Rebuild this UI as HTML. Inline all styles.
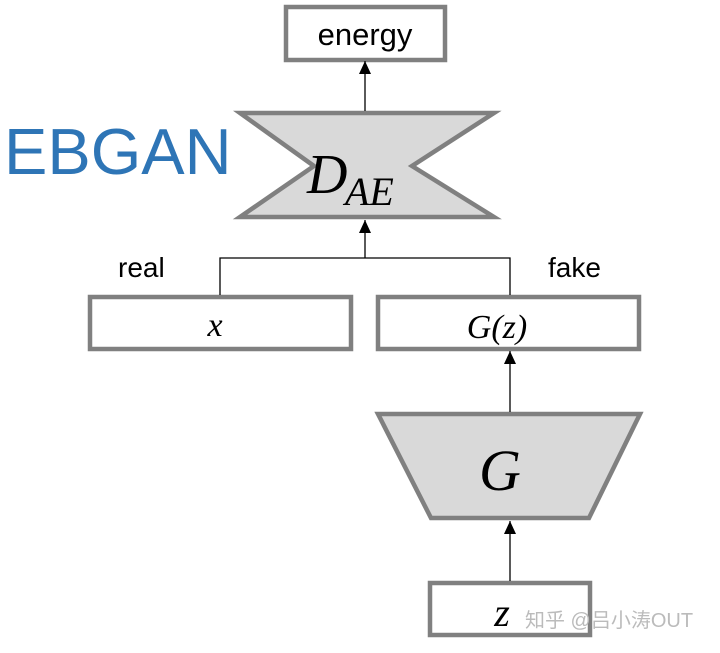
<!DOCTYPE html>
<html><head><style>
body{margin:0;background:#fff;width:720px;height:648px;overflow:hidden}
</style></head><body>
<svg width="720" height="648" xmlns="http://www.w3.org/2000/svg">
<defs><marker id="a" markerWidth="14" markerHeight="12" refX="13" refY="6" orient="auto" markerUnits="userSpaceOnUse"><path d="M0,0 L13,6 L0,12 Z" fill="#000"/></marker></defs>
<g stroke="#808080" stroke-width="4.5" fill="#fff">
<rect x="286" y="7" width="159" height="53"/>
<rect x="90" y="297" width="261" height="52"/>
<rect x="378" y="297" width="261" height="52"/>
<rect x="430" y="583" width="160" height="52"/>
<polygon points="240,113 494,113 412,166 494,217 240,217 314,166" fill="#d9d9d9"/>
<polygon points="378,414 640,414 589,518 431,518" fill="#d9d9d9"/>
</g>
<g stroke="#000" stroke-width="1.3" fill="none">
<line x1="365" y1="111" x2="365" y2="61" marker-end="url(#a)"/>
<line x1="365" y1="258" x2="365" y2="220" marker-end="url(#a)"/>
<polyline points="220,295 220,258 510,258 510,295"/>
<line x1="510" y1="412" x2="510" y2="351" marker-end="url(#a)"/>
<line x1="510" y1="581" x2="510" y2="521" marker-end="url(#a)"/>
</g>
<g font-family="Liberation Sans, sans-serif">
<text x="365" y="45" font-size="31" text-anchor="middle">energy</text>
<text x="4" y="174" font-size="65" fill="#2e75b6">EBGAN</text>
<text x="118" y="277" font-size="28">real</text>
<text x="548" y="277" font-size="28">fake</text>
<text x="525" y="627" font-size="20" fill="#bbb" font-family="Liberation Sans, Noto Sans CJK SC, sans-serif">知乎 @吕小涛OUT</text>
</g>
<g font-family="Liberation Serif, serif" font-style="italic">
<text x="307" y="193" font-size="56">D</text>
<text x="345" y="205" font-size="40">AE</text>
<text x="215" y="336" font-size="34" text-anchor="middle">x</text>
<text x="497" y="338" font-size="34" text-anchor="middle">G(z)</text>
<text x="500" y="490" font-size="58" text-anchor="middle">G</text>
<text x="502" y="626" font-size="40" text-anchor="middle">z</text>
</g>
</svg>
</body></html>
